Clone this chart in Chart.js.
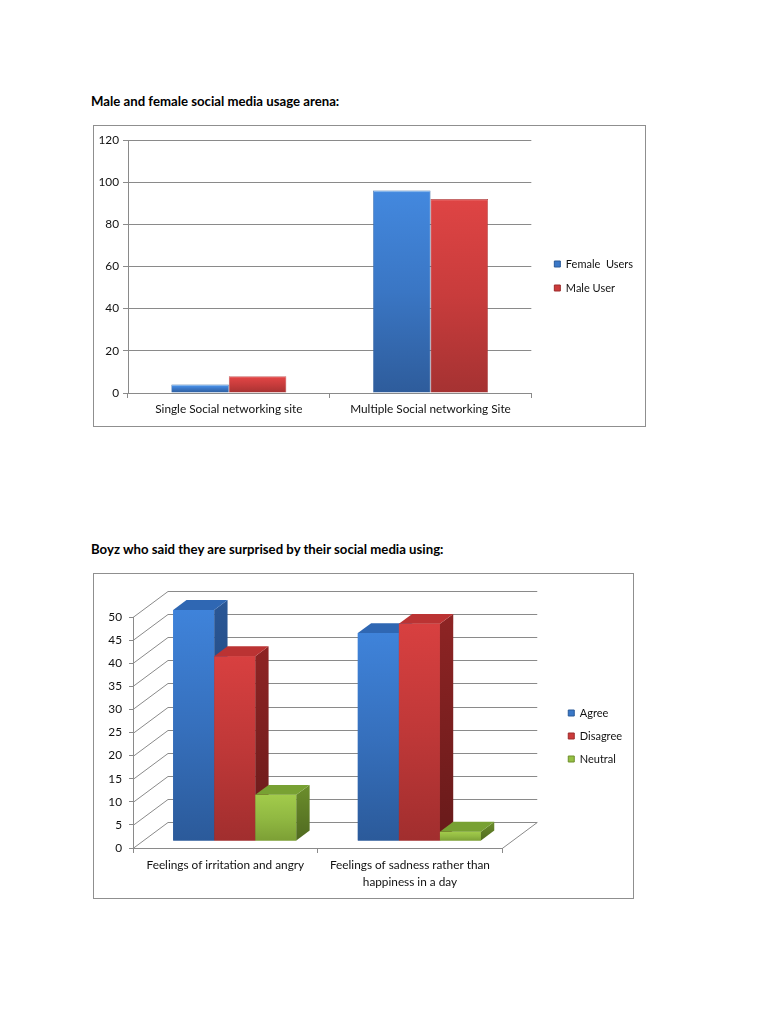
<!DOCTYPE html>
<html><head><meta charset="utf-8">
<script src="https://cdn.jsdelivr.net/npm/chart.js@4.4.0/dist/chart.umd.min.js"></script>
<style>
body{margin:0;background:#fff;width:768px;height:1024px;position:relative;font-family:Lato,sans-serif;overflow:hidden;}
.title{position:absolute;left:91px;font-weight:bold;font-size:13.2px;color:#000;white-space:nowrap;line-height:16px;}
.box{position:absolute;border:1px solid #8f8f8f;box-sizing:border-box;}
.wrap{position:absolute;}
</style></head><body>
<div class="title" style="top:93px">Male and female social media usage arena:</div>
<div class="box" style="left:93px;top:125px;width:553px;height:302px"></div>
<div class="wrap" style="left:93px;top:125px;width:553px;height:302px"><canvas id="c1" width="553" height="302"></canvas></div>

<div class="title" style="top:541px">Boyz who said they are surprised by their social media using:</div>
<div class="box" style="left:93px;top:573px;width:541px;height:326px"></div>
<div class="wrap" style="left:93px;top:573px;width:541px;height:326px"><canvas id="c2" width="541" height="326"></canvas></div>

<script>
// ---- Data: chart 1 ----
const categories1 = ['Single Social networking site', 'Multiple Social networking Site'];
const femaleUsers = [4, 96];
const maleUsers = [8, 92];
const yMax1 = 120, yStep1 = 20;

// ---- Data: chart 2 ----
const categories2 = ['Feelings of irritation and angry', ['Feelings of sadness rather than', 'happiness in a day']];
const agree = [50, 45];
const disagree = [40, 47];
const neutral = [10, 2];
const yMax2 = 50, yStep2 = 5;

const FONT = 'Lato';
const TXT = '#111111';
const GRID = '#8a8a8a';
const AX = 11.8;

function vGrad(stops) {
  return function (ctx) {
    const chart = ctx.chart;
    if (!chart.chartArea || ctx.raw === undefined) return stops[stops.length - 1][1];
    const y = chart.scales.y;
    const top = y.getPixelForValue(ctx.raw);
    const bot = y.getPixelForValue(0);
    const g = chart.ctx.createLinearGradient(0, top, 0, Math.max(bot, top + 1));
    const h = Math.max(bot - top, 1);
    stops.forEach(([p, c]) => {
      const pos = p < 0 ? Math.min(-p / h, 0.5) : p;
      g.addColorStop(pos, c);
    });
    return g;
  };
}

function legendLabels(solids, edges) {
  return function (chart) {
    const items = Chart.defaults.plugins.legend.labels.generateLabels(chart);
    items.forEach(it => {
      it.fillStyle = solids[it.datasetIndex];
      it.strokeStyle = edges[it.datasetIndex];
      it.lineWidth = 1;
    });
    return items;
  };
}

// empty title used only as a top spacer (legend keeps full height)
function spacer(h) {
  return { display: true, text: '', font: { size: 1, lineHeight: 1 }, padding: { top: h - 1, bottom: 0 } };
}

// let the legend text run to the canvas edge instead of being clipped
const legendRoom = {
  id: 'legendRoom',
  afterLayout(chart) {
    const lg = chart.legend;
    if (lg) { lg.right = chart.width; lg.width = lg.right - lg.left; }
  }
};

// ---------------- Chart 1 ----------------
new Chart(document.getElementById('c1'), {
  type: 'bar',
  data: {
    labels: categories1,
    datasets: [
      { label: 'Female  Users', data: femaleUsers,
        backgroundColor: vGrad([[0, '#8fc3f7'], [-2, '#4388de'], [0.5, '#3a76c4'], [1, '#2e5c9b']]),
        borderColor: '#2f5f9c', borderWidth: 0.6 },
      { label: 'Male User', data: maleUsers,
        backgroundColor: vGrad([[0, '#f39090'], [-2, '#de4444'], [0.5, '#c83c3c'], [1, '#a53232']]),
        borderColor: '#a33333', borderWidth: 0.6 }
    ]
  },
  options: {
    responsive: false, animation: false,
    layout: { padding: { top: 0, bottom: 0, left: 0, right: 15 } },
    datasets: { bar: { categoryPercentage: 0.57, barPercentage: 1.0 } },
    plugins: {
      tooltip: { enabled: false },
      title: spacer(15),
      legend: {
        position: 'right',
        labels: {
          font: { family: FONT, size: 11 }, color: TXT, boxWidth: 6, boxHeight: 6, padding: 13,
          generateLabels: legendLabels(['#3a78c8', '#cc3b3b'], ['#2a5a98', '#9c2c2c'])
        }
      }
    },
    scales: {
      x: {
        grid: { drawOnChartArea: false, drawTicks: true, tickLength: 5, color: GRID, offset: true },
        border: { color: GRID },
        ticks: { font: { family: FONT, size: AX }, color: TXT, padding: 4, maxRotation: 0, autoSkip: false },
        afterFit: s => { s.height = 34; }
      },
      y: {
        min: 0, max: yMax1,
        ticks: { stepSize: yStep1, font: { family: FONT, size: AX }, color: TXT, padding: 4 },
        grid: { color: GRID, tickLength: 5 },
        border: { color: GRID },
        afterFit: s => { s.width = 35; }
      },
      gap: {
        type: 'linear', position: 'right', display: true,
        grid: { display: false }, border: { display: false }, ticks: { display: false },
        afterFit: s => { s.width = 10; }
      }
    }
  },
  plugins: [legendRoom]
});

// ---------------- Chart 2 (3-D look) ----------------
const DEPTH = { x: 35, y: -26 };   // floor/back wall offset
const BAR_POS = 0.27;              // bar front plane depth fraction
const BAR_DEPTH = 0.38;            // bar depth fraction

const faceColors = [
  { side: ['#2a5796', '#1d3d6b'], top: '#2f67b3' },
  { side: ['#8e2424', '#681a1a'], top: '#bb3333' },
  { side: ['#6c8e2c', '#506a20'], top: '#78a133' }
];

const threeD = {
  id: 'threeD',
  beforeDatasetsDraw(chart) {
    const { ctx, chartArea: a } = chart;
    const y = chart.scales.y;
    ctx.save();
    ctx.strokeStyle = GRID;
    ctx.lineWidth = 1;
    y.ticks.forEach(t => {
      const py = Math.round(y.getPixelForValue(t.value)) + 0.5;
      ctx.beginPath();
      ctx.moveTo(a.left + DEPTH.x, py + DEPTH.y);
      ctx.lineTo(a.right + DEPTH.x, py + DEPTH.y);
      ctx.stroke();
      ctx.beginPath();
      ctx.moveTo(a.left, py);
      ctx.lineTo(a.left + DEPTH.x, py + DEPTH.y);
      ctx.stroke();
    });
    const by = Math.round(a.bottom) + 0.5;
    ctx.beginPath();
    ctx.moveTo(a.right, by);
    ctx.lineTo(a.right + DEPTH.x, by + DEPTH.y);
    ctx.stroke();
    ctx.restore();
    // shift the bar plane into the floor depth
    ctx.save();
    ctx.translate(DEPTH.x * BAR_POS, DEPTH.y * BAR_POS);
  },
  afterDatasetsDraw(chart) {
    const ctx = chart.ctx;
    const dx = DEPTH.x * BAR_DEPTH, dy = DEPTH.y * BAR_DEPTH;
    const n = chart.data.datasets.length;
    const nCat = chart.data.labels.length;
    // painter's order: left to right within each category
    for (let j = 0; j < nCat; j++) {
      for (let i = 0; i < n; i++) {
        const meta = chart.getDatasetMeta(i);
        const bar = meta.data[j];
        if (!bar) continue;
        const col = faceColors[i];
        bar.draw(ctx);
        const p = bar.getProps(['x', 'y', 'base', 'width'], true);
        const l = p.x - p.width / 2, r = p.x + p.width / 2, t = p.y, b = p.base;
        const g = ctx.createLinearGradient(0, t + dy, 0, b);
        g.addColorStop(0, col.side[0]);
        g.addColorStop(1, col.side[1]);
        ctx.beginPath();
        ctx.moveTo(r, t);
        ctx.lineTo(r + dx, t + dy);
        ctx.lineTo(r + dx, b + dy);
        ctx.lineTo(r, b);
        ctx.closePath();
        ctx.fillStyle = g;
        ctx.fill();
        ctx.beginPath();
        ctx.moveTo(l, t);
        ctx.lineTo(r, t);
        ctx.lineTo(r + dx, t + dy);
        ctx.lineTo(l + dx, t + dy);
        ctx.closePath();
        ctx.fillStyle = col.top;
        ctx.fill();
      }
    }
    ctx.restore();
  }
};

new Chart(document.getElementById('c2'), {
  type: 'bar',
  data: {
    labels: categories2,
    datasets: [
      { label: 'Agree', data: agree, clip: false,
        backgroundColor: vGrad([[0, '#3f83da'], [0.5, '#3670bd'], [1, '#2b5a9a']]) },
      { label: 'Disagree', data: disagree, clip: false,
        backgroundColor: vGrad([[0, '#d84040'], [0.5, '#bf3838'], [1, '#a12e2e']]) },
      { label: 'Neutral', data: neutral, clip: false,
        backgroundColor: vGrad([[0, '#a2cb4b'], [0.5, '#91b942'], [1, '#7c9f35']]) }
    ]
  },
  options: {
    responsive: false, animation: false,
    layout: { padding: { top: 0, bottom: 0, left: 0, right: 2 } },
    datasets: { bar: { categoryPercentage: 0.667, barPercentage: 1.0, borderWidth: 0 } },
    plugins: {
      tooltip: { enabled: false },
      title: spacer(44),
      legend: {
        position: 'right',
        labels: {
          font: { family: FONT, size: 11 }, color: TXT, boxWidth: 6, boxHeight: 6, padding: 12,
          generateLabels: legendLabels(['#3a78c8', '#cc3b3b', '#95c043'], ['#2a5a98', '#9c2c2c', '#6f8f2c'])
        }
      }
    },
    scales: {
      x: {
        grid: { drawOnChartArea: false, drawTicks: true, tickLength: 5, color: GRID, offset: true },
        border: { color: GRID },
        ticks: { font: { family: FONT, size: AX, lineHeight: '17px' }, color: TXT, padding: 4, maxRotation: 0, autoSkip: false },
        afterFit: s => { s.height = 51; }
      },
      y: {
        min: 0, max: yMax2,
        ticks: { stepSize: yStep2, font: { family: FONT, size: AX }, color: TXT, padding: 7 },
        grid: { drawOnChartArea: false, color: GRID, tickLength: 4 },
        border: { color: GRID },
        afterFit: s => { s.width = 40; }
      },
      gap: {
        type: 'linear', position: 'right', display: true,
        grid: { display: false }, border: { display: false }, ticks: { display: false },
        afterFit: s => { s.width = 54; }
      }
    }
  },
  plugins: [threeD, legendRoom]
});
</script>
</body></html>
